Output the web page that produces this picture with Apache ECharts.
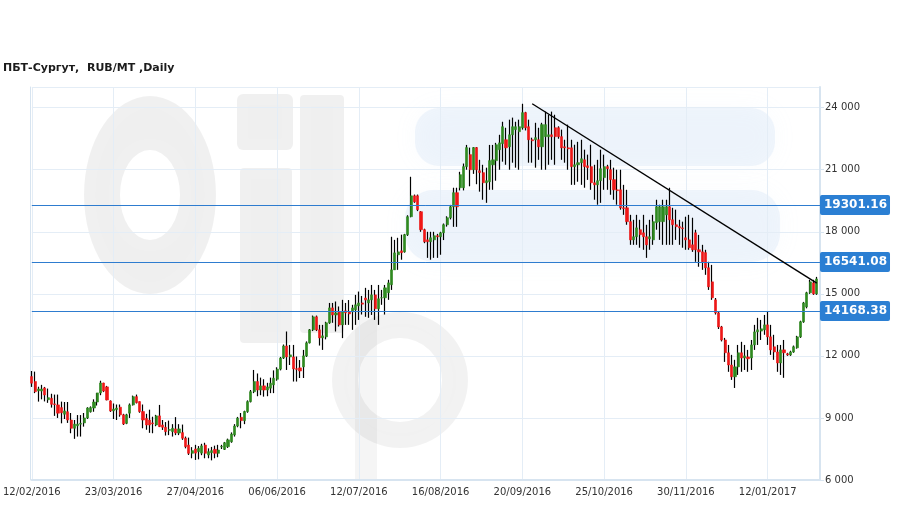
<!DOCTYPE html>
<html><head><meta charset="utf-8">
<script src="https://cdn.jsdelivr.net/npm/echarts@6/dist/echarts.min.js"></script>
<style>html,body{margin:0;padding:0;background:#fff}#c{width:909px;height:509px}</style>
</head><body><div id="c"></div>
<script>
// ---- data ----
const titleText = 'ПБТ-Сургут,  RUB/MT ,Daily';
const tickLabels = ['12/02/2016','23/03/2016','27/04/2016','06/06/2016','12/07/2016','16/08/2016','20/09/2016','25/10/2016','30/11/2016','12/01/2017'];
const labelStep = 25;            // trading days between date labels
const levels = [19301.16, 16541.08, 14168.38];
const trendLine = [[153, 24190], [240, 15520]];   // [candle index, price]
// [open, close, low, high]
const candles = [
[11000,10680,10500,11270],[10760,10270,10200,11240],[10310,10400,9790,10510],[10300,10400,9900,10600],[10450,10110,9800,10500],
[9880,9980,9730,10420],[9950,9660,9500,10170],[9680,9650,9100,10130],[9630,9230,9000,10130],[9500,9250,8740,9790],
[9180,9340,8950,9770],[9300,8900,8760,9770],[8900,8500,8260,9240],[8500,8700,7990,8900],[8620,8700,8100,9140],
[8700,8740,8100,9140],[8760,9000,8580,9240],[9000,9480,8950,9520],[9300,9500,9260,9560],[9480,9770,9300,9900],
[9770,10210,9600,10210],[10210,10690,10100,10800],[10690,10300,10250,10700],[10500,9870,9850,10550],[9820,9340,9290,9850],
[9340,9430,8950,9700],[9400,9480,8900,9650],[9520,9150,9060,9650],[9150,8710,8660,9200],[8740,9150,8700,9200],
[9230,9630,9000,9700],[9630,10030,9600,10080],[10030,9740,9700,10130],[9790,9310,9250,9800],[9310,8900,8500,9650],
[8980,8660,8430,9200],[8900,8660,8280,9400],[8760,8720,8260,9060],[8660,9100,8600,9150],[9100,8580,8560,9630],
[8660,8550,8420,8900],[8550,8340,8150,8800],[8400,8440,8170,8870],[8340,8500,8100,8700],[8470,8270,8170,9040],
[8270,8470,8170,8700],[8290,8020,7940,8680],[8020,7610,7530,8100],[7690,7290,7210,8050],[7290,7420,7050,7590],
[7500,7300,6970,7700],[7370,7530,7000,7640],[7300,7650,7200,7750],[7690,7290,7050,7800],[7210,7370,7050,7530],
[7320,7420,6950,7600],[7480,7290,7050,7660],[7290,7450,7100,7700],[7600,7620,7500,7700],[7480,7800,7450,7840],
[7610,7940,7550,8000],[7850,8220,7800,8300],[8180,8610,8100,8700],[8610,8990,8550,9050],[9030,8870,8500,9240],
[8870,9310,8700,9350],[9310,9790,9250,9850],[9790,10270,9750,10350],[10270,10760,10200,11320],[10760,10350,10050,11150],
[10350,10550,10100,10950],[10550,10350,10030,10870],[10350,10500,10050,10700],[10440,10680,10200,10950],[10600,10920,10200,11300],
[10870,11360,10800,11450],[11360,11890,11300,11950],[11900,12480,11850,12550],[12480,11950,11320,13180],[11950,12050,11560,12530],
[11950,11370,10760,12530],[11380,11350,10760,11970],[11420,11270,10930,11800],[11470,12000,10930,12290],[12000,12630,11950,12700],
[12630,13260,12600,13300],[13260,13890,13200,13950],[13890,13260,13200,13950],[13260,12870,12500,13500],[12870,12970,12290,13500],
[12920,13600,12800,13650],[13600,14320,13550,14560],[14320,13980,13600,14560],[13980,14080,13180,14630],[14130,13500,13420,14390],
[13500,14130,12860,14710],[14180,14080,13500,14560],[14130,14030,13500,14700],[14130,14320,13260,14470],[14230,14470,13500,14950],
[14420,14560,13740,15110],[14560,14500,14000,14900],[14800,14700,13890,15290],[14560,14710,13840,15190],[14710,14950,13980,15430],
[14950,14280,13740,15190],[14280,14760,13500,15430],[14800,14810,14470,15190],[14810,15290,14000,15430],[15050,15530,14710,15680],
[15440,16160,15190,17760],[16160,16980,16160,17610],[16890,17030,16160,17710],[17080,16990,16650,17860],[17030,17860,16990,17900],
[17860,18730,17800,18800],[18730,19740,18700,20660],[19740,19450,19400,19800],[19740,19070,19000,19800],[18970,18100,18000,19000],
[18100,17520,17450,18150],[17610,17520,16740,18000],[17520,17710,16650,18000],[17610,17810,16740,18000],[17810,17760,16740,17900],
[17760,17950,16890,18000],[17950,18340,17600,18400],[18340,18680,18250,18750],[18680,19210,18600,19300],[19210,19890,18240,20130],
[19890,19210,18240,20130],[20130,20760,20000,20900],[20130,21150,20000,21300],[21150,22070,21000,22200],[21730,21000,20200,22070],
[21000,22070,20800,22100],[22070,21000,20300,22100],[20950,20860,19940,21480],[20860,20370,19550,21240],[20370,20470,19400,21100],
[20420,21440,20030,22200],[21240,21480,20030,22200],[21440,22210,20470,22300],[21970,22300,21000,22690],[22260,23080,21390,23320],
[22450,22060,21240,23030],[22110,22690,21000,23420],[22690,23080,21340,23520],[22940,23080,21100,23320],[22840,23080,21000,23420],
[23030,23760,22940,24190],[23760,23030,22900,23800],[23080,22450,21340,23420],[22450,22400,21340,22550],[22450,22550,21100,23270],
[22450,22110,21480,23030],[22110,23180,21000,23270],[22600,23180,21000,23810],[22600,22690,21240,23660],[22690,22600,21480,23810],
[23030,22600,21240,23660],[23030,22600,22500,23100],[22600,22060,21480,22940],[22110,22060,21340,22450],[22060,22010,21000,23180],
[22060,21150,20270,22450],[21150,21240,20270,22210],[21240,21340,20420,22350],[21340,21530,20270,22450],[21480,21150,20130,21970],
[21190,21100,20510,21730],[21150,20370,20030,22210],[20370,20270,19550,21240],[20270,20470,19310,21480],[20470,21050,19400,21970],
[20620,21150,20030,21730],[21150,21050,20030,21240],[21000,20520,19790,21480],[20520,20030,19550,21100],[20030,19990,19310,21000],
[20030,19160,19070,21000],[19160,19120,18820,20270],[19160,18490,18340,20030],[18490,17610,17370,18820],[17610,17760,17370,18580],
[17760,18190,17370,18820],[18100,17860,17230,18580],[17950,17760,17130,18820],[17760,17370,16740,18340],[17660,17760,17130,18580],
[17610,18490,17370,18820],[18440,19210,18100,19550],[18490,19210,17610,19310],[18490,19210,17370,19550],[18820,19210,17370,19550],
[19210,18580,17370,20130],[18580,18340,17370,19160],[18340,18250,17610,19070],[18250,18190,17370,18580],[18190,18150,17230,18490],
[17710,17610,17130,18730],[17610,17230,17130,18820],[17370,17130,17030,18680],[17950,17130,16550,18100],[17130,17030,16310,17850],
[17030,16550,16160,17370],[16990,16260,15920,17130],[16260,15340,15190,16550],[15580,14810,14710,16400],[14710,14080,14000,14800],
[14080,13400,13300,14150],[13400,12770,12700,13450],[12770,12150,11710,12870],[12150,11560,11230,12530],[11560,10990,10840,12050],
[10990,11470,10450,11810],[11470,12150,11080,12530],[12150,11900,11230,12680],[11900,12000,11320,12530],[11950,11860,11230,12290],
[11900,12530,11320,12770],[12530,13160,12290,13500],[13160,13260,12530,13840],[13200,13310,12770,13740],[13260,13500,13020,13980],
[13500,12920,12530,14130],[12920,12290,12050,13500],[12440,12190,11810,13020],[12190,11660,11230,12530],[11660,12290,11080,12530],
[12290,12150,10940,12770],[12100,12050,12000,12150],[12050,12190,12000,12250],[12190,12440,12150,12500],[12390,12920,12350,12970],
[12920,13650,12870,13700],[13650,14560,13600,14610],[14370,15050,14300,15100],[15050,15580,15000,15680],[15530,15000,14950,15680],
[15000,15720,14950,15820]
];

// ---- derived ----
const slotCount = candles.length + 1;  // one empty slot at the right edge
const categories = [];
for (let i = 0; i < slotCount; i++) {
  const k = i / labelStep;
  categories.push(i % labelStep === 0 && tickLabels[k] ? tickLabels[k] : 'd' + i);
}
const isLabelIdx = (i) => i % labelStep === 0 && i / labelStep < tickLabels.length;
const bodies = candles.map(([o, c]) => [o, c, Math.min(o, c), Math.max(o, c)]);
const fmtThousands = (v) => String(v).replace(/\B(?=(\d{3})+(?!\d))/g, ' ');
const FONT = 'DejaVu Sans';
const GRIDC = '#e4edf6';
const AXISC = '#d7e4f0';

const chart = echarts.init(document.getElementById('c'), null, {renderer: 'canvas'});
const wm = 'rgba(0,0,0,0.06)';
const wmBlue = 'rgba(185,212,238,0.2)';
const blurG = {shadowBlur: 10, shadowColor: 'rgba(0,0,0,0.05)'};
chart.setOption({
  animation: false,
  backgroundColor: '#fff',
  title: {
    text: titleText, left: 3, top: 63, padding: 0,
    textStyle: {fontFamily: FONT, fontSize: 11, fontWeight: 'bold', color: '#1b1b1b'}
  },
  graphic: {elements: [
    {type: 'ring', z: -10, shape: {cx: 150, cy: 195, r: 66, r0: 30}, scaleY: 1.5, originX: 150, originY: 195, style: Object.assign({fill: wm}, blurG)},
    {type: 'rect', z: -10, shape: {x: 237, y: 94, width: 56, height: 56, r: 6}, style: Object.assign({fill: wm}, blurG)},
    {type: 'rect', z: -10, shape: {x: 240, y: 168, width: 52, height: 175, r: 4}, style: Object.assign({fill: wm}, blurG)},
    {type: 'rect', z: -10, shape: {x: 300, y: 95, width: 44, height: 238, r: 4}, style: Object.assign({fill: wm}, blurG)},
    {type: 'ring', z: -10, shape: {cx: 400, cy: 380, r: 68, r0: 42}, style: Object.assign({fill: 'rgba(0,0,0,0.05)'}, blurG)},
    {type: 'rect', z: -10, shape: {x: 355, y: 300, width: 22, height: 180}, style: Object.assign({fill: 'rgba(0,0,0,0.04)'}, blurG)},
    {type: 'rect', z: -10, shape: {x: 415, y: 108, width: 360, height: 58, r: 24}, style: {fill: wmBlue, shadowBlur: 25, shadowColor: 'rgba(185,212,238,0.35)'}},
    {type: 'rect', z: -10, shape: {x: 405, y: 190, width: 375, height: 72, r: 28}, style: {fill: wmBlue, shadowBlur: 25, shadowColor: 'rgba(185,212,238,0.35)'}}
  ]},
  grid: {left: 31, right: 89, top: 87, bottom: 29},
  xAxis: {
    type: 'category', data: categories, boundaryGap: false,
    axisLine: {lineStyle: {color: AXISC, width: 2}},
    axisTick: {show: false},
    axisLabel: {interval: (i) => isLabelIdx(i), fontFamily: FONT, fontSize: 10, color: '#333', margin: 7},
    splitLine: {show: true, interval: (i) => isLabelIdx(i), lineStyle: {color: GRIDC, width: 1}}
  },
  yAxis: [{
    type: 'value', position: 'right', min: 6000, max: 25000, interval: 3000,
    axisLine: {show: true, lineStyle: {color: AXISC, width: 2}},
    axisTick: {show: true, length: 4, lineStyle: {color: AXISC}},
    axisLabel: {fontFamily: FONT, fontSize: 10, color: '#333', margin: 5, showMaxLabel: false, formatter: fmtThousands},
    splitLine: {show: true, lineStyle: {color: GRIDC, width: 1}}
  }, {
    type: 'value', position: 'left', min: 6000, max: 25000, offset: 2,
    axisLine: {show: true, lineStyle: {color: AXISC, width: 1}},
    axisTick: {show: false}, axisLabel: {show: false}, splitLine: {show: false}
  }],
  series: [{
    type: 'candlestick', name: 'wick', data: candles, barWidth: 0.4, clip: false, z: 3,
    itemStyle: {color: '#000', color0: '#000', borderColor: '#000', borderColor0: '#000', borderWidth: 1.2},
    markLine: {
      silent: true, symbol: ['none', 'none'], animation: false,
      lineStyle: {color: '#2e7ccf', width: 1, type: 'solid'},
      label: {
        show: true, position: 'end', distance: 0,
        formatter: (p) => Number(p.value).toFixed(2),
        backgroundColor: '#2b7fd3', color: '#fff', fontFamily: FONT, fontSize: 12, fontWeight: 'bold',
        padding: [4, 3, 4, 4], borderRadius: 2
      },
      emphasis: {disabled: true},
      data: levels.map((v) => ({yAxis: v}))
    }
  }, {
    type: 'candlestick', name: 'body', data: bodies, barWidth: 2.6, clip: false, z: 4,
    itemStyle: {color: '#2e8a1f', color0: '#f01616', borderColor: '#2e8a1f', borderColor0: '#f01616', borderWidth: 0.6},
    markLine: {
      silent: true, symbol: ['none', 'none'], animation: false,
      lineStyle: {color: '#000', width: 1.4, type: 'solid'},
      label: {show: false},
      emphasis: {disabled: true},
      data: [[{coord: [trendLine[0][0], trendLine[0][1]]}, {coord: [trendLine[1][0], trendLine[1][1]]}]]
    }
  }]
});
</script></body></html>
